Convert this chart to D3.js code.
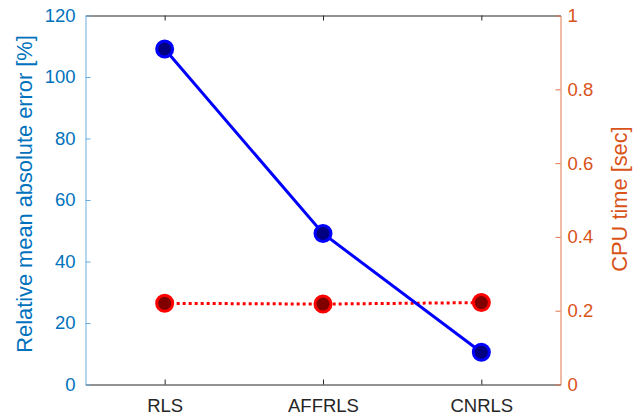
<!DOCTYPE html>
<html><head><meta charset="utf-8">
<script src="https://cdn.jsdelivr.net/npm/d3@7"></script>
<style>body{margin:0;background:#fff}svg{display:block}text{font-family:"Liberation Sans",Arial,sans-serif}</style>
</head><body>
<svg id="c" width="644" height="417"></svg>
<script>
const categories = ["RLS", "AFFRLS", "CNRLS"];
const errorValues = [109.1, 49.1, 10.5];
const cpuValues = [0.220, 0.218, 0.222];
const leftTicks = [0, 20, 40, 60, 80, 100, 120];
const rightTicks = [0, 0.2, 0.4, 0.6, 0.8, 1];
const rightTickLabels = ["0", "0.2", "0.4", "0.6", "0.8", "1"];

const m = {l: 85.5, r: 560.5, t: 15.5, b: 384.5};
const svg = d3.select("#c");
const blue = "#0072BD", orange = "#D95319";
const fs = 18.5, lfs = 21.8;

const x = d3.scalePoint().domain(categories).range([m.l, m.r]).padding(0.5);
const yL = d3.scaleLinear().domain([0, 120]).range([m.b, m.t]);
const yR = d3.scaleLinear().domain([0, 1]).range([m.b, m.t]);

// bottom & top axes
const axB = svg.append("g").attr("transform", `translate(0,${m.b})`)
  .call(d3.axisBottom(x).tickSizeInner(-5).tickSizeOuter(0).tickPadding(14));
const axT = svg.append("g").attr("transform", `translate(0,${m.t})`)
  .call(d3.axisTop(x).tickSizeInner(-5).tickSizeOuter(0).tickFormat(""));
[axB, axT].forEach(a => {
  a.select(".domain").attr("stroke", "#262626").attr("stroke-width", 1);
  a.selectAll(".tick line").attr("stroke", "#262626");
});
axB.selectAll(".tick text").attr("fill", "#262626").style("font-size", fs + "px")
  .attr("font-family", "Liberation Sans, Arial, sans-serif");

// left axis
const axL = svg.append("g").attr("transform", `translate(${m.l},0)`)
  .call(d3.axisLeft(yL).tickValues(leftTicks).tickSizeInner(-5).tickSizeOuter(0).tickPadding(10));
axL.select(".domain").attr("stroke", "#6aade0");
axL.selectAll(".tick line").attr("stroke", "#6aade0");
axL.selectAll(".tick text").attr("fill", blue).style("font-size", fs + "px")
  .attr("font-family", "Liberation Sans, Arial, sans-serif");

// right axis
const axR = svg.append("g").attr("transform", `translate(${m.r},0)`)
  .call(d3.axisRight(yR).tickValues(rightTicks).tickFormat((d, i) => rightTickLabels[i]).tickSizeInner(-5).tickSizeOuter(0).tickPadding(7));
axR.select(".domain").attr("stroke", "#e2764a");
axR.selectAll(".tick line").attr("stroke", "#e2764a");
axR.selectAll(".tick text").attr("fill", orange).style("font-size", fs + "px")
  .attr("font-family", "Liberation Sans, Arial, sans-serif");

// axis labels
svg.append("text").attr("transform", `translate(32,194) rotate(-90)`)
  .attr("text-anchor", "middle").attr("fill", blue).style("font-size", lfs + "px")
  .text("Relative mean absolute error [%]");
svg.append("text").attr("transform", `translate(627,199) rotate(-90)`)
  .attr("text-anchor", "middle").attr("fill", orange).style("font-size", lfs + "px")
  .text("CPU time [sec]");

// red dotted series (CPU time)
const lineR = d3.line().x((d, i) => x(categories[i])).y(d => yR(d));
svg.append("path").datum(cpuValues).attr("d", lineR)
  .attr("fill", "none").attr("stroke", "#ff0000").attr("stroke-width", 3)
  .attr("stroke-dasharray", "3,3");
svg.selectAll(".mr").data(cpuValues).enter().append("circle")
  .attr("cx", (d, i) => x(categories[i])).attr("cy", d => yR(d)).attr("r", 8)
  .attr("fill", "#800000").attr("stroke", "#ff0000").attr("stroke-width", 3);

// blue series (error)
const lineL = d3.line().x((d, i) => x(categories[i])).y(d => yL(d));
svg.append("path").datum(errorValues).attr("d", lineL)
  .attr("fill", "none").attr("stroke", "#0000ff").attr("stroke-width", 3);
svg.selectAll(".mb").data(errorValues).enter().append("circle")
  .attr("cx", (d, i) => x(categories[i])).attr("cy", d => yL(d)).attr("r", 8)
  .attr("fill", "#000080").attr("stroke", "#0000ff").attr("stroke-width", 3);
</script>
</body></html>
